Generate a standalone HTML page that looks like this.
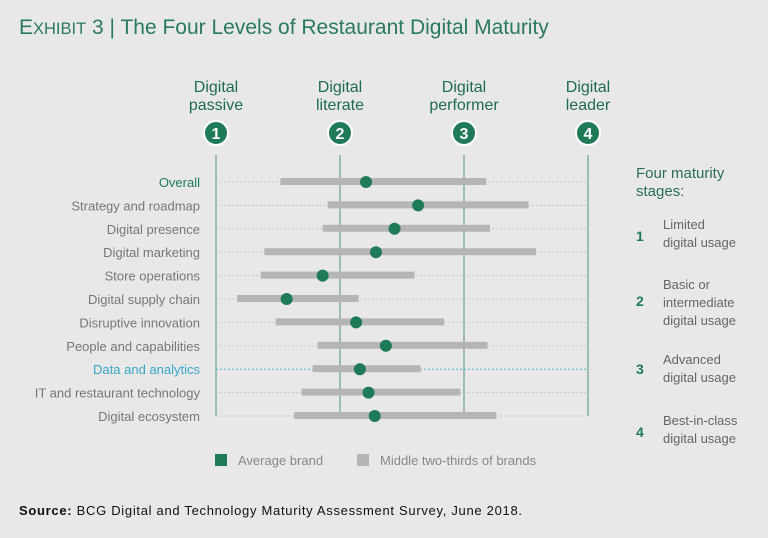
<!DOCTYPE html>
<html><head><meta charset="utf-8"><style>
html,body{margin:0;padding:0;background:#e8e8e9;}
body{width:768px;height:533px;overflow:hidden;font-family:"Liberation Sans",sans-serif;}
svg text{font-family:"Liberation Sans",sans-serif;}
</style></head><body>
<svg id="chart" width="768" height="533" viewBox="0 0 768 533" xmlns="http://www.w3.org/2000/svg">
<rect width="768" height="533" fill="#e8e8e9"/>
<text x="19" y="34" fill="#2a7a5c" font-size="21"><tspan font-size="21">E</tspan><tspan font-size="16.5">XHIBIT</tspan> 3 | The Four Levels of Restaurant Digital Maturity</text>
<g id="stages"></g>
<g id="grid"></g>
<g id="rows"></g>
<g font-size="14">
<text x="636" y="178" fill="#2a6e56" font-size="15">Four maturity</text>
<text x="636" y="196" fill="#2a6e56" font-size="15">stages:</text>
<text x="636" y="241" fill="#1f7a58" font-weight="bold" font-size="14">1</text>
<text x="663" y="229" fill="#666" font-size="13">Limited</text>
<text x="663" y="247" fill="#666" font-size="13">digital usage</text>
<text x="636" y="306" fill="#1f7a58" font-weight="bold" font-size="14">2</text>
<text x="663" y="289" fill="#666" font-size="13">Basic or</text>
<text x="663" y="307" fill="#666" font-size="13">intermediate</text>
<text x="663" y="325" fill="#666" font-size="13">digital usage</text>
<text x="636" y="374" fill="#1f7a58" font-weight="bold" font-size="14">3</text>
<text x="663" y="364" fill="#666" font-size="13">Advanced</text>
<text x="663" y="382" fill="#666" font-size="13">digital usage</text>
<text x="636" y="437" fill="#1f7a58" font-weight="bold" font-size="14">4</text>
<text x="663" y="425" fill="#666" font-size="13">Best-in-class</text>
<text x="663" y="443" fill="#666" font-size="13">digital usage</text>
</g>
<g>
<rect x="215" y="454" width="12" height="12" fill="#1f7a58"/>
<text x="238" y="465" fill="#888" font-size="13">Average brand</text>
<rect x="357" y="454" width="12" height="12" fill="#b5b5b5"/>
<text x="380" y="465" fill="#888" font-size="13">Middle two-thirds of brands</text>
</g>
<text x="19" y="515" fill="#111" font-size="13" textLength="503" lengthAdjust="spacing"><tspan font-weight="bold">Source:</tspan> BCG Digital and Technology Maturity Assessment Survey, June 2018.</text>
</svg>
<script>
const categories=["Overall","Strategy and roadmap","Digital presence","Digital marketing","Store operations","Digital supply chain","Disruptive innovation","People and capabilities","Data and analytics","IT and restaurant technology","Digital ecosystem"];
const rangeLow=[1.52,1.90,1.86,1.39,1.36,1.17,1.48,1.82,1.78,1.69,1.63];
const rangeHigh=[3.18,3.52,3.21,3.58,2.60,2.15,2.84,3.19,2.65,2.97,3.26];
const average=[2.21,2.63,2.44,2.29,1.86,1.57,2.13,2.37,2.16,2.23,2.28];
const stageTop=["Digital","Digital","Digital","Digital"];
const stageBottom=["passive","literate","performer","leader"];
const stageValues=[1,2,3,4];
const NS="http://www.w3.org/2000/svg";
const xScale=v=>216+(v-1)*124;
const yScale=i=>182+i*23.4;
function mk(tag,attrs,parent){const e=document.createElementNS(NS,tag);for(const k in attrs)e.setAttribute(k,attrs[k]);parent.appendChild(e);return e;}
const st=document.getElementById('stages'),gr=document.getElementById('grid'),rw=document.getElementById('rows');
stageValues.forEach((s,i)=>{const x=xScale(s);
 let t=mk('text',{x:x,y:92,'text-anchor':'middle',fill:'#1f6b4f','font-size':16},st);t.textContent=stageTop[i];
 
 
 t=mk('text',{x:x,y:110,'text-anchor':'middle',fill:'#1f6b4f','font-size':16},st);t.textContent=stageBottom[i];
 
 
 let c=mk('circle',{cx:x,cy:133,r:12,fill:'#1f7a58',stroke:'#fff','stroke-width':2},st);
 
 
 t=mk('text',{x:x,y:139,'text-anchor':'middle',fill:'#fff','font-size':16,'font-weight':'bold'},st);t.textContent=s;
 
 
 let l=mk('line',{x1:x,x2:x,y1:155,y2:416,stroke:'#4f8f77','stroke-width':1},gr);
 
 
});
categories.forEach((c,i)=>{const y=yScale(i);const hl=i===8;
 let l=mk('line',{x1:216,x2:588,y1:y,y2:y,stroke:hl?'#4fb3cf':'#c8c8c8','stroke-width':1,'stroke-dasharray':'2,2'},rw);
 
 
 let t=mk('text',{x:200,y:y+5,'text-anchor':'end',fill:i===0?'#1f7a58':(hl?'#3aa6c8':'#777'),'font-size':13},rw);t.textContent=c;
 
 
 let r=mk('rect',{x:xScale(rangeLow[i]),y:y-4,width:xScale(rangeHigh[i])-xScale(rangeLow[i]),height:7,fill:'#b5b5b5'},rw);
 
 
 let d=mk('circle',{cx:xScale(average[i]),cy:y,r:6,fill:'#1f7a58'},rw);
 
 
});
</script>
</body></html>
